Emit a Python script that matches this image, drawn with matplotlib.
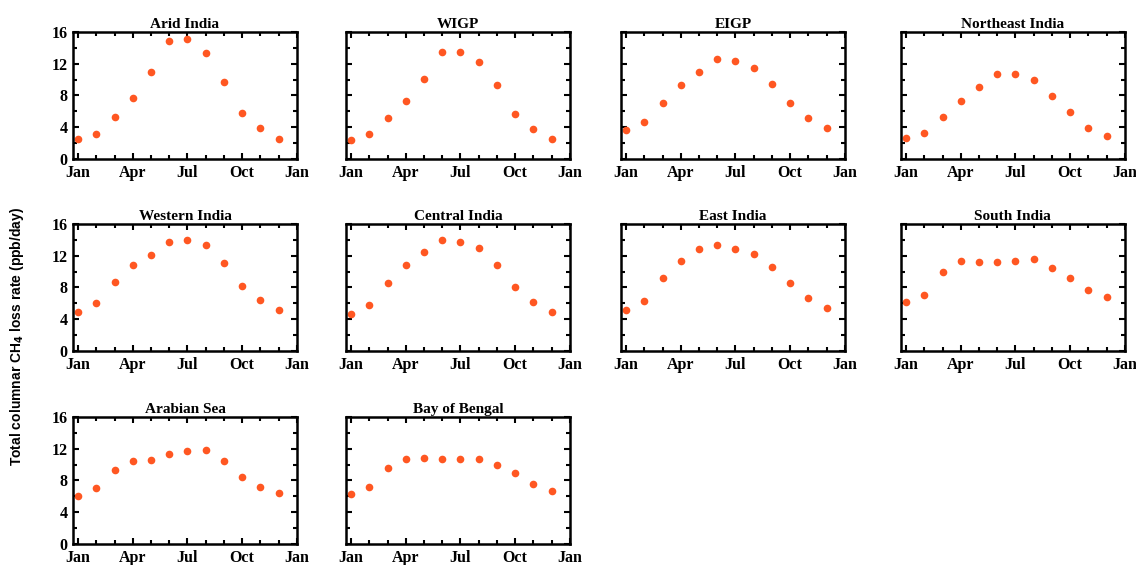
import matplotlib.pyplot as plt
import numpy as np

plt.rcParams['font.family'] = 'Liberation Serif'
plt.rcParams['font.weight'] = 'bold'
plt.rcParams['font.size'] = 11.5

regions = ["Arid India", "WIGP", "EIGP", "Northeast India",
           "Western India", "Central India", "East India", "South India",
           "Arabian Sea", "Bay of Bengal"]

months = np.arange(12)
month_ticks = [0, 3, 6, 9, 12]
month_labels = ["Jan", "Apr", "Jul", "Oct", "Jan"]

# monthly CH4 loss rate (ppb/day)
arid_india = [2.5, 3.2, 5.25, 7.7, 11.0, 14.85, 15.1, 13.4, 9.75, 5.85, 3.85, 2.55]
wigp = [2.4, 3.15, 5.15, 7.3, 10.05, 13.45, 13.5, 12.25, 9.35, 5.7, 3.75, 2.55]
eigp = [3.65, 4.65, 7.1, 9.3, 11.0, 12.65, 12.3, 11.4, 9.5, 7.0, 5.15, 3.95]
northeast_india = [2.6, 3.3, 5.25, 7.3, 9.05, 10.7, 10.75, 10.0, 7.95, 5.9, 3.95, 2.85]
western_india = [4.9, 6.0, 8.65, 10.8, 12.05, 13.75, 14.0, 13.4, 11.1, 8.2, 6.45, 5.2]
central_india = [4.6, 5.8, 8.55, 10.8, 12.5, 14.0, 13.75, 12.95, 10.8, 8.0, 6.2, 4.9]
east_india = [5.15, 6.25, 9.2, 11.35, 12.8, 13.4, 12.9, 12.2, 10.6, 8.55, 6.65, 5.4]
south_india = [6.15, 7.1, 9.95, 11.3, 11.2, 11.25, 11.35, 11.6, 10.5, 9.15, 7.65, 6.8]
arabian_sea = [6.1, 7.0, 9.3, 10.4, 10.55, 11.35, 11.7, 11.85, 10.5, 8.4, 7.15, 6.4]
bay_of_bengal = [6.25, 7.2, 9.55, 10.7, 10.8, 10.75, 10.65, 10.65, 9.95, 9.0, 7.6, 6.7]

series = [arid_india, wigp, eigp, northeast_india,
          western_india, central_india, east_india, south_india,
          arabian_sea, bay_of_bengal]

fig = plt.figure(figsize=(11.36, 5.65), dpi=100)

col_left = [0.0643, 0.3046, 0.5467, 0.7931]
row_bottom = [0.7186, 0.3788, 0.0372]
w, h = 0.197, 0.2248

for i, (name, vals) in enumerate(zip(regions, series)):
    r, c = divmod(i, 4)
    ax = fig.add_axes([col_left[c], row_bottom[r], w, h])
    ax.plot(months, vals, 'o', color='#FF5722', markersize=5.5, markeredgewidth=0)
    ax.set_xlim(-0.28, 12)
    ax.set_ylim(0, 16)
    ax.set_xticks(month_ticks)
    ax.set_xticklabels(month_labels)
    ax.set_xticks(np.arange(13), minor=True)
    ax.set_yticks([0, 4, 8, 12, 16])
    ax.set_yticks(np.arange(0, 17, 2), minor=True)
    if c != 0:
        ax.set_yticklabels([])
    ax.tick_params(which='both', direction='in', top=True, right=True, width=1.5)
    ax.tick_params(which='major', length=4)
    ax.tick_params(axis='x', which='major', pad=4.5)
    ax.tick_params(axis='y', which='major', pad=4)
    ax.tick_params(which='minor', length=3)
    for s in ax.spines.values():
        s.set_linewidth(1.8)
    ax.set_title(name, fontsize=11, fontweight='bold', pad=3)

fig.text(0.015, 1 - 336 / 565, "Total columnar CH$_4$ loss rate (ppb/day)",
         rotation=90, ha='center', va='center', fontsize=10,
         family='Liberation Sans', fontweight='bold')

plt.savefig("out.png", dpi=100)
